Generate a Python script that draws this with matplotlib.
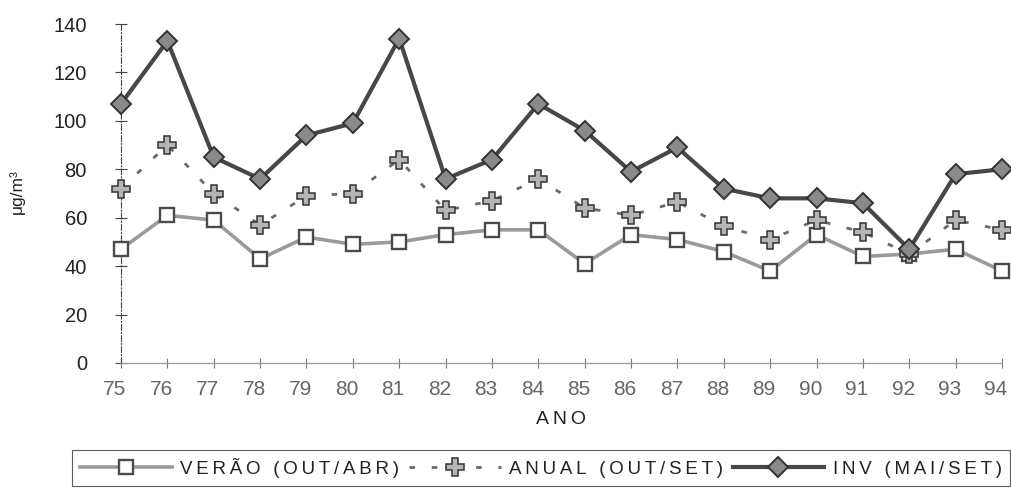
import matplotlib
matplotlib.use('Agg')
import matplotlib.pyplot as plt
import matplotlib.transforms as mtransforms
from matplotlib import font_manager

# ---- data ----
anos = [75, 76, 77, 78, 79, 80, 81, 82, 83, 84, 85, 86, 87, 88, 89, 90, 91, 92, 93, 94]
tick_labels = [str(a) for a in anos]
verao = [47, 61, 59, 43, 52, 49, 50, 53, 55, 55, 41, 53, 51, 46, 38, 53, 44, 45, 47, 38]
anual = [72, 90, 70, 57, 69, 70, 84, 63, 67, 76, 64, 61, 66.5, 56.5, 51, 59, 54, 45, 59, 55]
inv = [107, 133, 85, 76, 94, 99, 134, 76, 84, 107, 96, 79, 89, 72, 68, 68, 66, 47, 78, 80]
series_labels = ['VERÃO (OUT/ABR)', 'ANUAL (OUT/SET)', 'INV (MAI/SET)']
y_ticks = [0, 20, 40, 60, 80, 100, 120, 140]
x_title = 'ANO'
y_title = 'μg/m³'


def has_font(name):
    try:
        font_manager.findfont(name, fallback_to_default=False)
        return True
    except Exception:
        return False


base = 'Liberation Sans' if has_font('Liberation Sans') else 'DejaVu Sans'
narrow = 'Liberation Sans Narrow' if has_font('Liberation Sans Narrow') else base
plt.rcParams['font.family'] = [base, 'DejaVu Sans']


def spaced(s):
    return '\u2009'.join(s)


W, H = 1011, 488
fig = plt.figure(figsize=(W / 100, H / 100), dpi=100)
ax = fig.add_axes([121 / W, 125 / H, 881 / W, 339 / H])

l1, = ax.plot(anos, verao, color='#9a9a9a', lw=2.6, marker='s', ms=10.5,
              mfc='white', mec='#4a4a4a', mew=1.7, zorder=3, clip_on=False)
l2, = ax.plot(anos, anual, color='#6a6a6a', lw=2.0, linestyle=(0, (2.0, 6.0)),
              marker='P', ms=13.5, mfc='#b5b5b5', mec='#333333', mew=1.1,
              zorder=4, clip_on=False)
l3, = ax.plot(anos, inv, color='#474747', lw=3.0, marker='D', ms=10,
              mfc='#8a8a8a', mec='#333333', mew=1.4, zorder=5, clip_on=False)

ax.set_xlim(75, 94)
ax.set_ylim(0, 140)
ax.set_xticks(anos)
ax.set_xticklabels(tick_labels, fontfamily=narrow)
ax.set_yticks(y_ticks)

ax.tick_params(axis='y', direction='inout', length=9, width=0.8, color='#444444',
               pad=20, labelsize=14.5, labelcolor='#222222')
ax.tick_params(axis='x', direction='inout', length=7, width=0.8, color='#777777',
               pad=9, labelsize=15, labelcolor='#666666')

shift = mtransforms.ScaledTranslation(-6 / 100, 0, fig.dpi_scale_trans)
for lab in ax.get_xticklabels():
    lab.set_transform(lab.get_transform() + shift)

for s in ['top', 'right']:
    ax.spines[s].set_visible(False)
ax.spines['left'].set_linestyle((0, (5, 2, 1, 2)))
ax.spines['left'].set_color('#444444')
ax.spines['left'].set_linewidth(0.8)
ax.spines['bottom'].set_color('#999999')
ax.spines['bottom'].set_linewidth(0.9)

fig.text(561 / W, 1 - 420 / H, spaced(x_title), ha='center', va='center',
         fontsize=14, color='#222222')
fig.text(17 / W, 1 - 192 / H, y_title, rotation=90, ha='center', va='center',
         fontsize=12.5, color='#222222')

leg = fig.legend([l1, l2, l3], [spaced(t) for t in series_labels], loc='center',
                 bbox_to_anchor=(541 / W, 1 - 468 / H), ncol=3, frameon=True,
                 fancybox=False, edgecolor='#333333', handlelength=4.9,
                 handletextpad=0.45, columnspacing=0.5, borderpad=0.45,
                 fontsize=13.5, labelcolor='#222222', numpoints=1)
leg.get_frame().set_linewidth(0.8)

fig.savefig('out.png', dpi=100)
